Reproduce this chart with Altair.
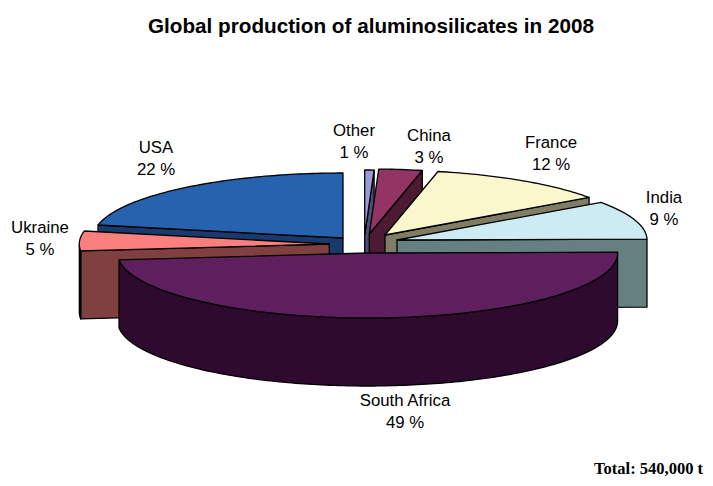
import math
import altair as alt

# Data
countries = ["USA", "Ukraine", "South Africa", "India", "France", "China", "Other"]
shares = [21.8, 4.9, 48.5, 9.6, 11.8, 2.8, 0.6]      # wedge sizes as drawn (%)
labels = ["22 %", "5 %", "49 %", "9 %", "12 %", "3 %", "1 %"]
title_text = "Global production of aluminosilicates in 2008"
total_text = "Total: 540,000 t"

# Styling / layout (page pixels)
top_colors = ["#2662AD", "#FA8080", "#5F1F5F", "#CCEBF2", "#FBF7CC", "#943464", "#9A9AD8"]
side_colors = ["#1A3A6E", "#804040", "#2E0B2E", "#667F80", "#7F7D66", "#4C1A33", "#4D4D7A"]
centers = {"USA": (343, 238), "Ukraine": (329.3, 244), "South Africa": (367.6, 253),
           "India": (397, 240), "France": (385, 235), "China": (369.3, 234), "Other": (364.7, 235)}
label_pos = {"USA": (156, 147.5), "Ukraine": (40, 228), "South Africa": (405, 400.5),
             "India": (664, 198), "France": (551, 142.5), "China": (429, 135.5), "Other": (354, 130.5)}
RX, RY, DEPTH = 250, 65, 68
M = 8
W, H = 713 - 2 * M, 486 - 2 * M
draw_order = ["Other", "China", "France", "India", "USA", "Ukraine", "South Africa"]


def pt(c, th, drop=0):
    r = math.radians(th)
    return [c[0] - RX * math.sin(r), c[1] - RY * math.cos(r) + drop]


def feature(ring, fill):
    ring = ring + [ring[0]]
    return {"type": "Feature", "properties": {"fill": fill},
            "geometry": {"type": "Polygon", "coordinates": [ring]}}


# wedge angles, counter-clockwise from the top of the ellipse
angles = {}
start = 0.0
for name, s in zip(countries, shares):
    angles[name] = (start, start + s * 3.6)
    start += s * 3.6

features = []
for name in draw_order:
    i = countries.index(name)
    a0, a1 = angles[name]
    c = centers[name]
    steps = [a0 + (a1 - a0) * k / max(2, int(a1 - a0)) for k in range(max(2, int(a1 - a0)) + 1)]
    apex_low = [c[0], c[1] + DEPTH]
    if name in ("USA", "Ukraine", "India", "France", "China", "Other"):
        # cut face seen along the wedge edge that looks at the viewer
        edge = a1 if name in ("USA", "Ukraine") else a0
        features.append(feature([list(c), pt(c, edge), pt(c, edge, DEPTH), apex_low], side_colors[i]))
    if name in ("Ukraine", "South Africa"):
        # outer rim below the ellipse
        vis = [t for t in steps if 90 <= t <= 270.9]
        rim = [pt(c, t) for t in vis] + [pt(c, t, DEPTH) for t in reversed(vis)]
        features.append(feature(rim, side_colors[i]))
    top = [list(c)] + [pt(c, t) for t in steps]
    features.append(feature(top, top_colors[i]))

pie = (
    alt.Chart(alt.Data(values=features))
    .mark_geoshape(stroke="#000000", strokeWidth=1.3, strokeJoin="round")
    .encode(fill=alt.Fill("properties.fill:N", scale=None))
    .project(type="identity", scale=1, translate=[-M, -M])
)

rows = []
for name, lab in zip(countries, labels):
    x, y = label_pos[name]
    rows.append({"x": x - M, "y": y - M, "t": name})
    rows.append({"x": x - M, "y": y + 22 - M, "t": lab})

XP = alt.X("x:Q", scale=None, axis=None)
YP = alt.Y("y:Q", scale=None, axis=None)

label_layer = (
    alt.Chart(alt.Data(values=rows))
    .mark_text(font="Liberation Sans", fontSize=16.8, color="#000000", baseline="middle", align="center")
    .encode(x=XP, y=YP, text="t:N")
)
title_layer = (
    alt.Chart(alt.Data(values=[{"x": 371 - M, "y": 26.5 - M, "t": title_text}]))
    .mark_text(font="Liberation Sans", fontSize=20.7, fontWeight="bold", color="#000000", baseline="middle", align="center")
    .encode(x=XP, y=YP, text="t:N")
)
total_layer = (
    alt.Chart(alt.Data(values=[{"x": 703 - M, "y": 469 - M, "t": total_text}]))
    .mark_text(font="Liberation Serif", fontSize=16.5, fontWeight="bold", color="#000000", baseline="middle", align="right")
    .encode(x=XP, y=YP, text="t:N")
)

chart = (
    alt.layer(pie, label_layer, title_layer, total_layer)
    .resolve_scale(x="independent", y="independent")
    .properties(width=W, height=H, padding=0, background="#ffffff",
                autosize=alt.AutoSizeParams(type="none"))
    .configure_view(strokeWidth=0, stroke=None)
)
chart.save("out.html", embed_options={"renderer": "svg", "actions": False})
